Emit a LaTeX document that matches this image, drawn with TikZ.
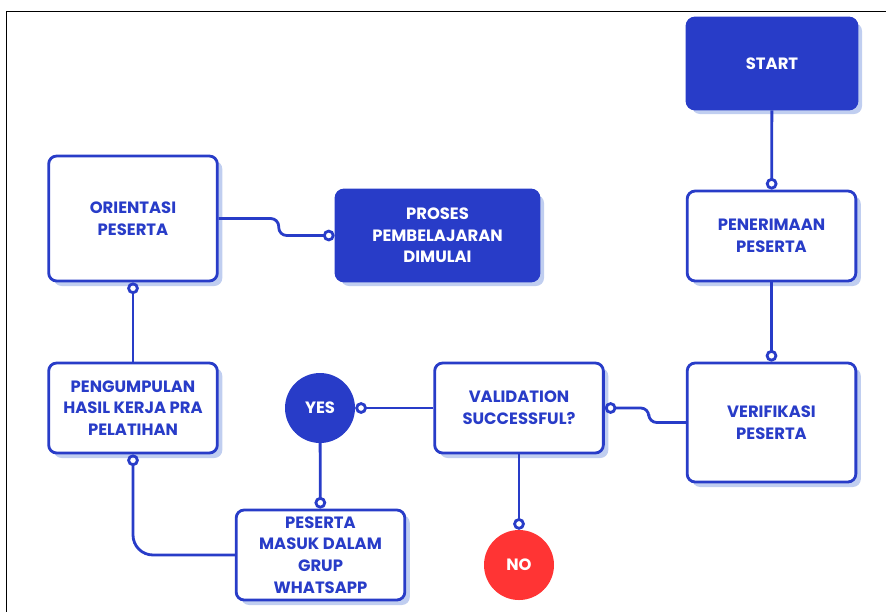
\documentclass[tikz,border=0pt]{standalone}
\usepackage{fontspec}
\setmainfont{Poppins}
\usetikzlibrary{arrows.meta,shadows}
\definecolor{flowblue}{RGB}{40,60,200}
\definecolor{shadeblue}{RGB}{192,206,240}
\definecolor{noRed}{RGB}{255,52,52}
\begin{document}
\begin{tikzpicture}[x=0.3mm,y=-0.3mm,
  every node/.style={font=\fontsize{14}{18.5}\selectfont\bfseries,align=center},
  box/.style={draw=flowblue,fill=white,line width=2.4pt,rounded corners=2.4mm,
    text=flowblue,minimum width=50.6mm,minimum height=27mm,
    drop shadow={shadow xshift=1.5mm,shadow yshift=-1.5mm,fill=shadeblue,opacity=1}},
  fillbox/.style={box,fill=flowblue,text=white},
  answer/.style={circle,fill=#1,text=white,minimum size=21mm,inner sep=0pt},
  conn/.style={draw=flowblue,line width=2.4pt,-{Circle[open,length=3.5mm,width=3.5mm]}}]
\useasboundingbox (0,0) rectangle (886,612);
\draw[line width=1.3pt] (886,11.5) -- (6.5,11.5) -- (6.5,612);
\node[fillbox,minimum width=51mm,minimum height=27.3mm] (start) at (772,63.5) {START};
\node[box] (terima) at (771.5,236) {PENERIMAAN\\PESERTA};
\node[box,minimum height=35.7mm] (verif) at (771.5,422.5) {VERIFIKASI\\PESERTA};
\node[box] (valid) at (519,408) {VALIDATION\\SUCCESSFUL?};
\node[answer=flowblue] (yes) at (320,408) {YES};
\node[answer=noRed] (no) at (519,565) {NO};
\node[box] (masuk) at (320.5,555) {PESERTA\\MASUK DALAM\\GRUP\\WHATSAPP};
\node[box] (kumpul) at (133,408) {PENGUMPULAN\\HASIL KERJA PRA\\PELATIHAN};
\node[box,minimum height=37.5mm] (orient) at (133,218.5) {ORIENTASI\\PESERTA};
\node[fillbox,minimum width=60.9mm,minimum height=27.3mm] (proses) at (437.5,235.5) {PROSES\\PEMBELAJARAN\\DIMULAI};
\draw[conn] (start) -- (terima);
\draw[conn] (terima) -- (verif);
\draw[conn,rounded corners=2.4mm] (verif.west) -- ++(-37,0) |- (valid.east);
\draw[conn] (valid) -- (yes);
\draw[conn] (valid) -- (no);
\draw[conn] (yes) -- (masuk);
\draw[conn,rounded corners=6mm] (masuk.west) -| (kumpul.south);
\draw[conn] (kumpul) -- (orient);
\draw[conn,rounded corners=2.4mm] (orient.east) -- ++(60,0) |- (proses.west);
\end{tikzpicture}
\end{document}
